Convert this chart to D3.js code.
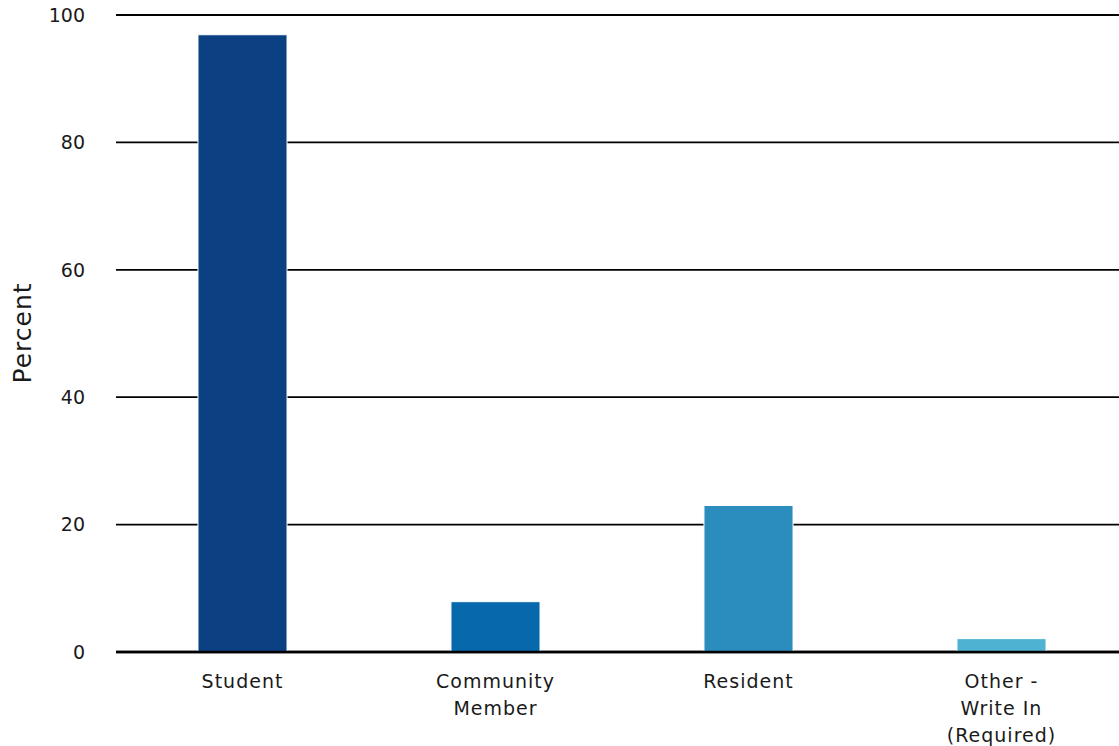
<!DOCTYPE html>
<html><head><meta charset="utf-8">
<script src="https://cdn.jsdelivr.net/npm/d3@7"></script>
<style>
html,body{margin:0;padding:0;background:#fff;}
svg text{font-family:"DejaVu Sans","Noto Sans",sans-serif;fill:#1a1a1a;}
</style></head>
<body><svg id="c" width="1119" height="746"></svg>
<script>
const categories = [["Student"], ["Community", "Member"], ["Resident"], ["Other -", "Write In", "(Required)"]];
const values = [96.9, 7.9, 23.0, 2.1];
const colors = ["#0b4082", "#0868ac", "#2b8cbe", "#4eb3d3"];
const yTicks = [0, 20, 40, 60, 80, 100];

const svg = d3.select("#c");
const x = d3.scaleBand().domain(d3.range(categories.length)).range([116, 1128]).paddingInner(0.648).paddingOuter(0.324);
const y = d3.scaleLinear().domain([0, 100]).range([652, 15]);

// gridlines
svg.append("g").selectAll("line").data(yTicks).join("line")
  .attr("x1", 116).attr("x2", 1119)
  .attr("y1", d => y(d)).attr("y2", d => y(d))
  .attr("stroke", "#000").attr("stroke-width", d => d === 0 ? 2.5 : 1.8);

// y tick labels
svg.append("g").selectAll("text").data(yTicks).join("text")
  .attr("x", 85).attr("y", d => y(d)).attr("dy", "0.36em")
  .attr("text-anchor", "end").style("font-size", "19px")
  .text(d => d);

// bars
svg.append("g").selectAll("rect").data(values).join("rect")
  .attr("x", (d, i) => x(i)).attr("width", x.bandwidth())
  .attr("y", d => y(d)).attr("height", d => y(0) - y(d))
  .attr("fill", (d, i) => colors[i]).attr("stroke", "#fff").attr("stroke-width", 1);

// redraw baseline on top
svg.append("line").attr("x1", 116).attr("x2", 1119).attr("y1", y(0)).attr("y2", y(0))
  .attr("stroke", "#000").attr("stroke-width", 2.5);

// x labels
const xl = svg.append("g").selectAll("text").data(categories).join("text")
  .attr("x", (d, i) => x(i) + x.bandwidth() / 2).attr("y", 688)
  .attr("text-anchor", "middle").style("font-size", "19px").style("letter-spacing", "1px");
xl.selectAll("tspan").data(d => d).join("tspan")
  .attr("x", function () { return this.parentNode.getAttribute("x"); })
  .attr("dy", (d, i) => i === 0 ? 0 : 27).text(d => d);

// y title
svg.append("text").attr("transform", "translate(31,333) rotate(-90)")
  .attr("text-anchor", "middle").style("font-size", "25px").style("letter-spacing", "1px").text("Percent");
</script></body></html>
